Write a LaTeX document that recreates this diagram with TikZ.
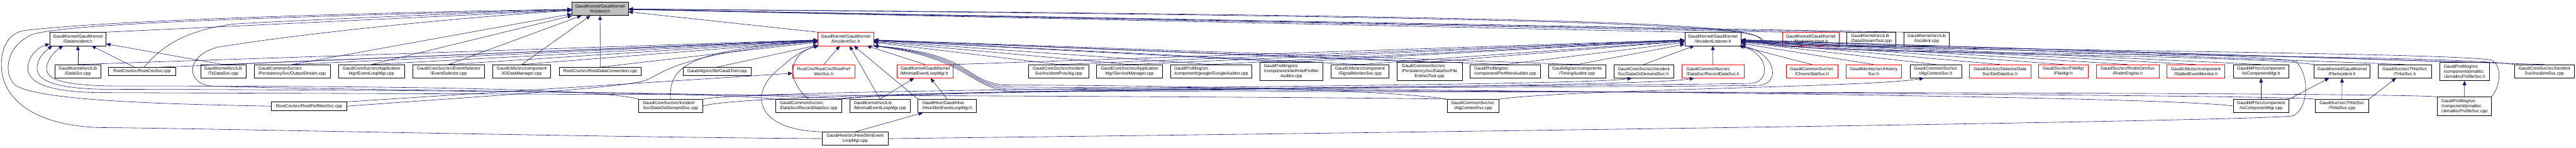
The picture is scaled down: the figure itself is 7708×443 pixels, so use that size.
\documentclass[tikz,border=0pt]{standalone}
\usepackage{fontspec}
\setmainfont{Liberation Sans}
\usepackage{xcolor}
\usepackage{tikz}
\usetikzlibrary{arrows.meta}
\definecolor{edgeblue}{HTML}{191970}

\begin{document}
\begin{tikzpicture}[
    x=1pt, y=1pt,
    every node/.style={font=\fontsize{13}{15}\selectfont},
    file/.style={draw=black, fill=white, line width=1pt, inner sep=0pt, minimum height=40pt, align=center},
    trunc/.style={file, draw=red},
    root/.style={file, fill=gray!50},
    one/.style={minimum height=25pt},
    three/.style={minimum height=55pt},
    dep/.style={draw=edgeblue, line width=1.1pt, -{Triangle[length=13pt,width=11pt]}}
]
\fill[white] (0,0) rectangle (7708,-443);
\useasboundingbox (0,0) rectangle (7708,-443);

\node[root, minimum width=169pt] (inc) at (1795.5,-26.5) {GaudiKernel/GaudiKernel\\/Incident.h};

\node[file, minimum width=168pt] (dinc) at (233,-117) {GaudiKernel/GaudiKernel\\/DataIncident.h};
\node[trunc, minimum width=167pt] (isvc) at (2530.5,-117) {GaudiKernel/GaudiKernel\\/IIncidentSvc.h};
\node[file, minimum width=168pt] (ilis) at (5125,-117) {GaudiKernel/GaudiKernel\\/IIncidentListener.h};
\node[trunc, minimum width=168pt] (modi) at (5418,-117) {GaudiKernel/GaudiKernel\\/ModuleIncident.h};
\node[file, minimum width=147pt, align=left] (dstr) at (5599.5,-117) {GaudiKernel/src/Lib\\/DataStreamTool.cpp};
\node[file, minimum width=136pt] (incc) at (5765,-117) {GaudiKernel/src/Lib\\/Incident.cpp};

\node[file, minimum width=136pt] (dsvc) at (233,-214) {GaudiKernel/src/Lib\\/DataSvc.cpp};
\node[file, one, minimum width=200pt] (rcnv) at (425,-214.5) {RootCnv/src/RootCnvSvc.cpp};
\node[file, minimum width=136pt] (tsds) at (668,-214) {GaudiKernel/src/Lib\\/TsDataSvc.cpp};
\node[file, minimum width=228pt, align=left] (outs) at (874,-214) {GaudiCommonSvc/src\\/PersistencySvc/OutputStream.cpp};
\node[file, minimum width=197pt] (elmc) at (1111.5,-214) {GaudiCoreSvc/src/Application\\Mgr/EventLoopMgr.cpp};
\node[file, minimum width=215pt] (esel) at (1342.5,-214) {GaudiCoreSvc/src/EventSelector\\/EventSelector.cpp};
\node[file, minimum width=174pt] (iodm) at (1561,-214) {GaudiUtils/src/component\\/IODataManager.cpp};
\node[file, one, minimum width=246pt] (rdcn) at (1796,-214.5) {RootCnv/src/RootDataConnection.cpp};
\node[file, one, minimum width=203pt] (gtool) at (2145.5,-214.5) {GaudiAlg/src/lib/GaudiTool.cpp};
\node[trunc, minimum width=186pt] (rpmh) at (2465,-214) {RootCnv/RootCnv/RootPerf\\MonSvc.h};
\node[trunc, minimum width=168pt, align=left] (mlmh) at (2768,-214) {GaudiKernel/GaudiKernel\\/MinimalEventLoopMgr.h};
\node[file, minimum width=179pt] (ipal) at (3167.5,-214) {GaudiCoreSvc/src/Incident\\Svc/IncidentProcAlg.cpp};
\node[file, minimum width=198pt] (smgr) at (3380,-214) {GaudiCoreSvc/src/Application\\Mgr/ServiceManager.cpp};
\node[file, minimum width=242pt, align=left] (goog) at (3624,-214) {GaudiProfiling/src\\/component/google/GoogleAuditor.cpp};
\node[file, three, minimum width=188pt, align=left] (intl) at (3864,-214.5) {GaudiProfiling/src\\/component/intel/IntelProfiler\\\null\hfill Auditor.cpp\hfill\null};
\node[file, minimum width=173pt] (sigm) at (4069.5,-214) {GaudiUtils/src/component\\/SignalMonitorSvc.cpp};
\node[file, three, minimum width=195pt, align=left] (dsfe) at (4277.5,-214.5) {GaudiCommonSvc/src\\/PersistencySvc/DataSvcFile\\\null\hfill EntriesTool.cpp\hfill\null};
\node[file, minimum width=210pt, align=left] (pmon) at (4504,-214) {GaudiProfiling/src\\/component/PerfMonAuditor.cpp};
\node[file, minimum width=172pt] (tima) at (4719,-214) {GaudiAlg/src/components\\/TimingAuditor.cpp};
\node[file, minimum width=179pt, align=left] (dodh) at (4918.5,-214) {GaudiCoreSvc/src/Incident\\Svc/DataOnDemandSvc.h};
\node[trunc, minimum width=185pt, align=left] (rdsh) at (5125.5,-214) {GaudiCommonSvc/src\\/DataSvc/RecordDataSvc.h};
\node[trunc, minimum width=155pt] (chro) at (5421.5,-214) {GaudiCommonSvc/src\\/ChronoStatSvc.h};
\node[trunc, minimum width=167pt] (hist) at (5606.5,-214) {GaudiMonitor/src/History\\Svc.h};
\node[file, minimum width=154pt] (acsh) at (5792,-214) {GaudiCommonSvc/src\\/AlgContextSvc.h};
\node[trunc, minimum width=183pt] (detd) at (5984.5,-214) {GaudiSvc/src/DetectorData\\Svc/DetDataSvc.h};
\node[trunc, minimum width=148pt] (fmgr) at (6174,-214) {GaudiSvc/src/FileMgr\\/FileMgr.h};
\node[trunc, minimum width=187pt] (rndm) at (6366.5,-214) {GaudiSvc/src/RndmGenSvc\\/RndmEngine.h};
\node[trunc, minimum width=173pt] (stal) at (6570.5,-214) {GaudiUtils/src/component\\/StalledEventMonitor.h};
\node[file, minimum width=167pt] (iocmh) at (6765.5,-214) {GaudiMP/src/component\\/IoComponentMgr.h};
\node[file, minimum width=168pt] (finc) at (7008,-214) {GaudiKernel/GaudiKernel\\/FileIncident.h};
\node[file, minimum width=161pt] (thsh) at (7195.5,-214) {GaudiSvc/src/THistSvc\\/THistSvc.h};
\node[file, three, minimum width=149pt, align=left] (jemh) at (7374.5,-214.5) {GaudiProfiling/src\\/component/jemalloc\\/JemallocProfileSvc.h};
\node[file, minimum width=179pt] (isvcc) at (7613.5,-214) {GaudiCoreSvc/src/Incident\\Svc/IncidentSvc.cpp};

\node[file, one, minimum width=226pt] (rpmc) at (925,-318.5) {RootCnv/src/RootPerfMonSvc.cpp};
\node[file, minimum width=191pt, align=left] (dodc) at (2006.5,-318) {GaudiCoreSvc/src/Incident\\Svc/DataOnDemandSvc.cpp};
\node[file, minimum width=199pt, align=left] (rdsc) at (2419.5,-318) {GaudiCommonSvc/src\\/DataSvc/RecordDataSvc.cpp};
\node[file, minimum width=180pt, align=left] (mlmc) at (2633,-318) {GaudiKernel/src/Lib\\/MinimalEventLoopMgr.cpp};
\node[file, minimum width=175pt, align=left] (hslh) at (2834.5,-318) {GaudiHive/GaudiHive\\/HiveSlimEventLoopMgr.h};
\node[file, minimum width=155pt] (acsc) at (4407.5,-318) {GaudiCommonSvc/src\\/AlgContextSvc.cpp};
\node[file, minimum width=167pt] (iocmc) at (6765.5,-318) {GaudiMP/src/component\\/IoComponentMgr.cpp};
\node[file, minimum width=161pt] (thsc) at (7007.5,-318) {GaudiSvc/src/THistSvc\\/THistSvc.cpp};
\node[file, three, minimum width=162pt, align=left] (jemc) at (7374,-318.5) {GaudiProfiling/src\\/component/jemalloc\\/JemallocProfileSvc.cpp};

\node[file, minimum width=197pt] (hslc) at (2558.5,-416) {GaudiHive/src/HiveSlimEvent\\LoopMgr.cpp};

\foreach \s in {dsvc,tsds} \draw[dep] (\s.north) -- (dinc);
\foreach \s in {outs,elmc,esel,iodm,rdcn} \draw[dep] (\s.north) -- (inc);
\foreach \s in {dsvc,tsds,outs,elmc,esel,iodm,rdcn,gtool,rpmh,mlmh,mlmc,ipal,smgr,goog,intl,sigm,dsfe,pmon,tima}
    \draw[dep] (\s.north) -- (isvc);
\foreach \s in {ipal,smgr,goog,intl,sigm,dsfe,pmon,tima,dodh,rdsh,chro,hist,acsh,detd,fmgr,rndm,stal,iocmh,thsh,jemh,isvcc}
    \draw[dep] (\s.north) -- (ilis);
\foreach \s in {isvc,ilis,modi,dstr,incc} \draw[dep] (\s.north west) -- (inc);
\draw[dep] (dinc.north east) -- (inc);
\draw[dep] (mlmh.north east) -- (ilis);

\draw[dep] ([xshift=-23pt]rcnv.north) -- (dinc);
\draw[dep] ([xshift=58pt]rcnv.north) -- (isvc);
\draw[dep] ([xshift=6pt]rcnv.north) .. controls (475,-150) and (540,-92) .. (700,-72) .. controls (1000,-55) and (1450,-38) .. (inc);

\draw[dep] (mlmc.north) -- (mlmh);
\draw[dep] (hslh.north) -- (mlmh);
\draw[dep] (hslh.north west) -- (isvc);
\draw[dep] (hslc.north) -- (hslh);
\draw[dep] (rpmc.north east) -- (rpmh);
\draw[dep] (iocmc) -- (iocmh);
\draw[dep] (iocmc.north east) -- (finc);
\draw[dep] (thsc) -- (finc);
\draw[dep] (thsc.north east) -- (thsh);
\draw[dep] (jemc) -- (jemh);

\draw[dep] (dodc.north east) .. controls (2300,-262) and (4700,-262) .. (dodh.-150);
\draw[dep] (rdsc.north east) .. controls (2700,-266) and (4900,-266) .. (rdsh.-160);
\draw[dep] (acsc.north east) .. controls (4700,-268) and (5600,-262) .. (acsh.-150);

\draw[dep] (dodc.north) .. controls (2000,-200) and (2060,-150) .. (isvc);
\draw[dep] (rdsc.north) .. controls (2350,-240) and (2360,-160) .. (isvc);
\draw[dep] (rpmc.east) .. controls (1500,-285) and (1880,-262) .. (1935,-240) .. controls (1990,-215) and (2040,-160) .. (isvc);
\draw[dep] (hslc.north west) .. controls (2250,-390) and (2240,-270) .. (2340,-200) .. controls (2380,-160) and (2420,-145) .. (isvc);

\draw[dep] (acsc.north west) .. controls (4100,-262) and (3300,-256) .. (3000,-255) .. controls (2880,-240) and (2910,-160) .. (isvc.south east);
\draw[dep] (iocmc.west) .. controls (6400,-280) and (3400,-264) .. (3005,-261) .. controls (2885,-246) and (2905,-165) .. (isvc.south east);
\draw[dep] (thsc.north west) .. controls (6800,-282) and (3500,-270) .. (3010,-267) .. controls (2890,-252) and (2900,-170) .. (isvc.south east);
\draw[dep] (jemc.north west) .. controls (7150,-275) and (3600,-276) .. (3015,-273) .. controls (2895,-258) and (2895,-175) .. (isvc.south east);

\draw[dep] (dodc.east) .. controls (2300,-262) and (5000,-258) .. (5245,-250) .. controls (5300,-240) and (5290,-160) .. (ilis);
\draw[dep] ([xshift=-15pt]rdsc.north east) .. controls (2700,-262) and (5050,-262) .. (5268,-256) .. controls (5330,-245) and (5310,-160) .. (ilis);
\draw[dep] (hslc.east) .. controls (4000,-400) and (6700,-365) .. (6860,-348) .. controls (6905,-330) and (6915,-230) .. (6870,-185) .. controls (6700,-150) and (5500,-150) .. (ilis);
\draw[dep] (jemc.north east) .. controls (7480,-260) and (7490,-200) .. (7455,-180) .. controls (7300,-155) and (5600,-150) .. (ilis);

\draw[dep] (finc.north west) .. controls (6700,-160) and (5310,-165) .. (5270,-125) .. controls (5265,-80) and (5150,-50) .. (inc);
\draw[dep] (isvcc.north west) .. controls (7300,-158) and (5320,-168) .. (5278,-128) .. controls (5272,-84) and (5160,-54) .. (inc);

\draw[dep] (hslc.west) .. controls (1800,-412) and (600,-385) .. (315,-383) .. controls (110,-382) and (4,-300) .. (4,-195) .. controls (4,-135) and (30,-100) .. (70,-92) .. controls (350,-58) and (1200,-36) .. (inc);
\draw[dep] (rpmc.west) .. controls (450,-312) and (110,-300) .. (45,-255) .. controls (12,-225) and (15,-150) .. (80,-112) .. controls (110,-75) and (650,-55) .. (inc);
\draw[dep] (mlmc.north west) .. controls (2300,-278) and (900,-270) .. (630,-258) .. controls (560,-250) and (550,-170) .. (650,-142) .. controls (900,-100) and (1400,-50) .. (inc);

\draw[dep] (acsc.north west) .. controls (4000,-290) and (1500,-282) .. (300,-278) .. controls (100,-276) and (75,-230) .. (85,-190) .. controls (95,-155) and (120,-140) .. (dinc.-170);
\draw[dep] (rdsc.north west) .. controls (2200,-280) and (1400,-270) .. (320,-268) .. controls (130,-266) and (105,-230) .. (112,-195) .. controls (118,-165) and (140,-150) .. (dinc.-165);
\draw[dep] (dodc.north west) .. controls (1800,-266) and (1200,-258) .. (340,-258) .. controls (160,-256) and (135,-230) .. (140,-200) .. controls (145,-170) and (170,-150) .. (dinc.-155);
\end{tikzpicture}
\end{document}
